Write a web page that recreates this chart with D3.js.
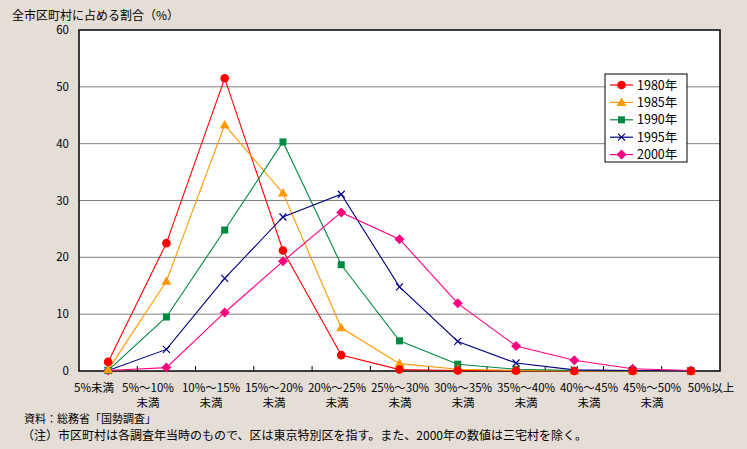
<!DOCTYPE html>
<html><head><meta charset="utf-8">
<script src="https://cdn.jsdelivr.net/npm/d3@7"></script>
<style>
body{margin:0;background:#e4ded7;}
svg{display:block;font-family:"Noto Sans CJK JP","Noto Sans",sans-serif;}
</style></head>
<body><svg id="c" width="747" height="449"></svg>
<script>
const categories = ["5%未満","5%～10%|未満","10%～15%|未満","15%～20%|未満","20%～25%|未満","25%～30%|未満","30%～35%|未満","35%～40%|未満","40%～45%|未満","45%～50%|未満","50%以上"];
const seriesNames = ["1980年","1985年","1990年","1995年","2000年"];
const v1980 = [1.6,22.5,51.5,21.2,2.8,0.25,0.1,0.05,0,0,0];
const v1985 = [0.2,15.8,43.3,31.3,7.6,1.3,0.3,0.1,0,0,0];
const v1990 = [0.1,9.5,24.8,40.3,18.7,5.3,1.2,0.3,0.1,0,0];
const v1995 = [0.1,3.8,16.3,27.1,31.1,14.8,5.2,1.4,0.2,0.1,0];
const v2000 = [0.1,0.6,10.3,19.3,27.9,23.2,11.9,4.4,1.9,0.4,0.1];
const yTicks = [0,10,20,30,40,50,60];
const colors = ["#ff0000","#ff9900","#008a40","#000080","#ff0080"];
const shapes = ["circle","triangle","square","cross","diamond"];
const allValues = [v1980,v1985,v1990,v1995,v2000];

const svg = d3.select("#c");
const L=79, R=720, T=30, B=371;
const x = d3.scaleBand().domain(d3.range(categories.length)).range([L,R]);
const y = d3.scaleLinear().domain([0,60]).range([B,T]);
// label placement (labels are spread wider than the plot categories)
const xLab = d3.scaleLinear().domain([1,9]).range([148,652]);

svg.append("rect").attr("x",L).attr("y",T).attr("width",R-L).attr("height",B-T).attr("fill","#fff");
svg.append("g").selectAll("line").data(yTicks.filter(d=>d>0&&d<60)).join("line")
  .attr("x1",L).attr("x2",R).attr("y1",d=>y(d)).attr("y2",d=>y(d))
  .attr("stroke","#808080").attr("stroke-width",1);
svg.append("rect").attr("x",L).attr("y",T).attr("width",R-L).attr("height",B-T)
  .attr("fill","none").attr("stroke","#000").attr("stroke-width",1.5);

// y axis labels
svg.append("g").selectAll("text").data(yTicks).join("text")
  .attr("x",69).attr("y",d=>y(d)+4).attr("text-anchor","end")
  .attr("font-size",11.5).attr("fill","#000").text(d=>d);
// x tick marks
svg.append("g").selectAll("line").data(d3.range(1,categories.length)).join("line")
  .attr("x1",d=>x(d)).attr("x2",d=>x(d)).attr("y1",B).attr("y2",B-5)
  .attr("stroke","#000");
// x labels
const xl = svg.append("g").selectAll("text").data(categories).join("text")
  .attr("text-anchor","middle").attr("font-size",11.5).attr("fill","#000");
xl.each(function(d,i){
  const parts=d.split("|");
  const t=d3.select(this);
  let cx = xLab(i);
  if(i===0) cx = 94;
  if(i===categories.length-1) cx = 711;
  parts.forEach((p,j)=>t.append("tspan").attr("x",cx).attr("y",392+j*14.5).text(p));
});

function drawMarker(g,shape,cx,cy,color){
  if(shape==="circle") g.append("circle").attr("cx",cx).attr("cy",cy).attr("r",4.3).attr("fill",color);
  else if(shape==="triangle") g.append("path").attr("d",`M${cx},${cy-5}L${cx+5},${cy+3.5}L${cx-5},${cy+3.5}Z`).attr("fill",color);
  else if(shape==="square") g.append("rect").attr("x",cx-3.5).attr("y",cy-3.5).attr("width",7).attr("height",7).attr("fill",color);
  else if(shape==="cross") g.append("path").attr("d",`M${cx-3.5},${cy-3.5}L${cx+3.5},${cy+3.5}M${cx+3.5},${cy-3.5}L${cx-3.5},${cy+3.5}`).attr("stroke",color).attr("stroke-width",1.2).attr("fill","none");
  else if(shape==="diamond") g.append("path").attr("d",`M${cx},${cy-5}L${cx+5},${cy}L${cx},${cy+5}L${cx-5},${cy}Z`).attr("fill",color);
}

const line = d3.line().x((d,i)=>x(i)+x.bandwidth()/2).y(d=>y(d));
allValues.forEach((vals,s)=>{
  svg.append("path").datum(vals).attr("d",line).attr("fill","none").attr("stroke",colors[s]).attr("stroke-width",1.1);
});
[4,3,2,1,0].forEach(s=>{
  const g=svg.append("g");
  allValues[s].forEach((v,i)=>drawMarker(g,shapes[s],x(i)+x.bandwidth()/2,y(v),colors[s]));
});

// legend
const lg=svg.append("g");
lg.append("rect").attr("x",605).attr("y",74).attr("width",82).attr("height",88).attr("fill","#fff").attr("stroke","#000");
seriesNames.forEach((n,s)=>{
  const yy=85+s*17.4;
  lg.append("line").attr("x1",610).attr("x2",633).attr("y1",yy).attr("y2",yy).attr("stroke",colors[s]).attr("stroke-width",1.2);
  drawMarker(lg,shapes[s],621.5,yy,colors[s]);
  lg.append("text").attr("x",637).attr("y",yy+4.5).attr("font-size",12.5).text(n);
});

// title and notes
svg.append("text").attr("x",12).attr("y",19.5).attr("font-size",12).text("全市区町村に占める割合（%）");
svg.append("text").attr("x",24).attr("y",423).attr("font-size",11).text("資料：総務省「国勢調査」");
svg.append("text").attr("x",22).attr("y",440).attr("font-size",12).text("（注）市区町村は各調査年当時のもので、区は東京特別区を指す。また、2000年の数値は三宅村を除く。");
</script></body></html>
